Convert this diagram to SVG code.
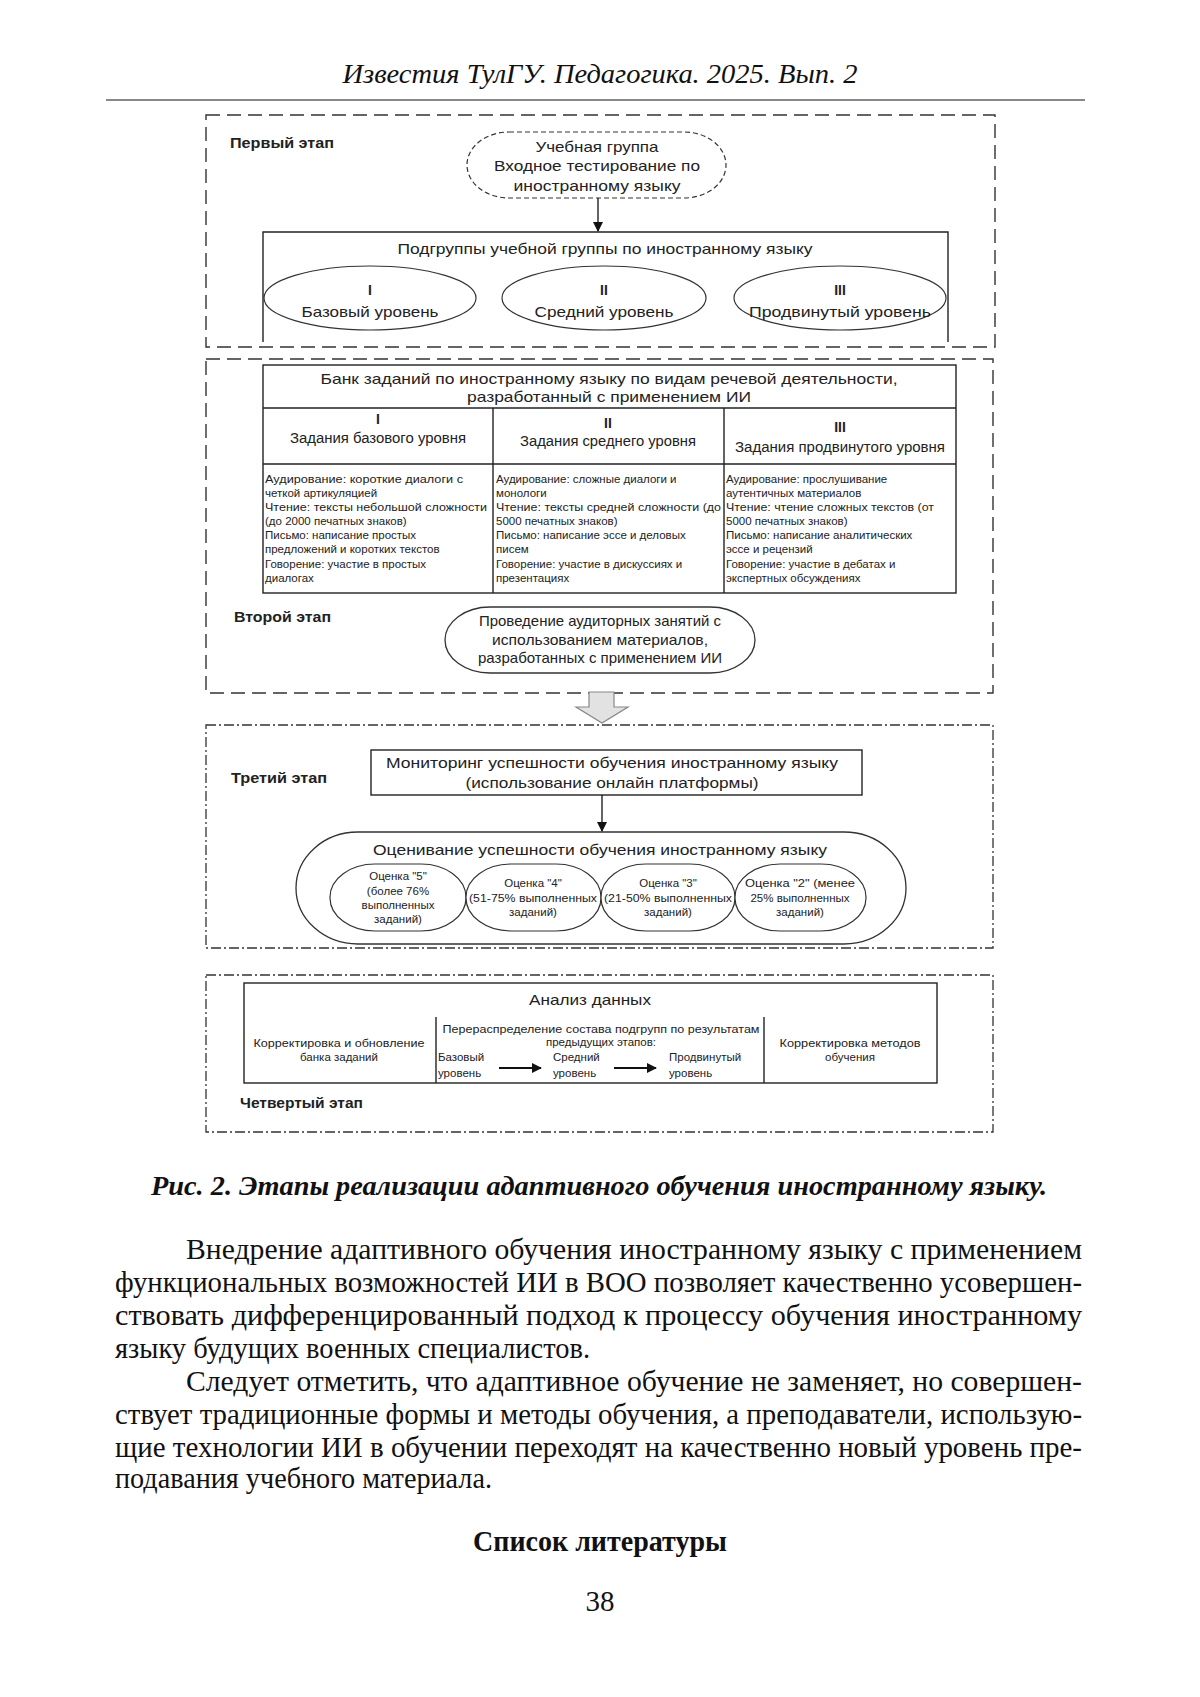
<svg xmlns="http://www.w3.org/2000/svg" width="1200" height="1697" viewBox="0 0 1200 1697">
<defs>
<marker id="ah" markerWidth="10" markerHeight="10" refX="9" refY="5" orient="auto" markerUnits="userSpaceOnUse">
<path d="M0,0 L10,5 L0,10 Z" fill="#111"/>
</marker>
<style>
.dash{fill:none;stroke:#333;stroke-width:1.4;stroke-dasharray:14 7}
.dd{fill:none;stroke:#333;stroke-width:1.3;stroke-dasharray:10 3 2 3}
.bx{fill:#fff;stroke:#222;stroke-width:1.4}
.ln{fill:none;stroke:#222;stroke-width:1.4}
.sf{font-family:"Liberation Sans",Arial,sans-serif;fill:#222}
.c{text-anchor:middle}
.s15{font-size:15px}
.s14{font-size:14px}
.s12{font-size:11.5px}
.b{font-weight:bold}
.tr{font-family:"Liberation Serif","Times New Roman",serif;fill:#111}
</style>
</defs>
<rect width="1200" height="1697" fill="#fff"/>

<g id="header">
<text class="tr" x="600" y="83" text-anchor="middle" font-size="28" font-style="italic" textLength="515" lengthAdjust="spacingAndGlyphs">Известия ТулГУ. Педагогика. 2025. Вып. 2</text>
<line x1="106" y1="100" x2="1085" y2="100" stroke="#888" stroke-width="2"/>
</g>

<g id="stage1">
<rect class="dash" x="206" y="115" width="789" height="232"/>
<text class="sf s14 b" x="230" y="148" textLength="104" lengthAdjust="spacingAndGlyphs">Первый этап</text>
</g>
<g id="node-group">
<rect x="467" y="132" width="259" height="66" rx="42" ry="33" fill="#fff" stroke="#333" stroke-width="1.2" stroke-dasharray="5 3"/>
<text class="sf s15 c" x="597" y="152" textLength="123" lengthAdjust="spacingAndGlyphs">Учебная группа</text>
<text class="sf s15 c" x="597" y="171" textLength="206" lengthAdjust="spacingAndGlyphs">Входное тестирование по</text>
<text class="sf s15 c" x="597" y="191" textLength="167" lengthAdjust="spacingAndGlyphs">иностранному языку</text>
</g>
<g id="node-subgroups">
<path class="ln" d="M263,342 V232 H948 V342"/>
<text class="sf s15 c" x="605" y="254" textLength="415" lengthAdjust="spacingAndGlyphs">Подгруппы учебной группы по иностранному языку</text>
</g>
<g id="node-level1">
<ellipse cx="370" cy="298" rx="106" ry="32" fill="#fff" stroke="#333" stroke-width="1.2"/>
<text class="sf s14 b c" x="370" y="295">I</text>
<text class="sf s15 c" x="370" y="317" textLength="137" lengthAdjust="spacingAndGlyphs">Базовый уровень</text>
</g>
<g id="node-level2">
<ellipse cx="604" cy="298" rx="102" ry="32" fill="#fff" stroke="#333" stroke-width="1.2"/>
<text class="sf s14 b c" x="604" y="295">II</text>
<text class="sf s15 c" x="604" y="317" textLength="139" lengthAdjust="spacingAndGlyphs">Средний уровень</text>
</g>
<g id="node-level3">
<ellipse cx="840" cy="298" rx="106" ry="32" fill="#fff" stroke="#333" stroke-width="1.2"/>
<text class="sf s14 b c" x="840" y="295">III</text>
<text class="sf s15 c" x="840" y="317" textLength="182" lengthAdjust="spacingAndGlyphs">Продвинутый уровень</text>
</g>

<g id="stage2">
<rect class="dash" x="206" y="359" width="787" height="334"/>
<text class="sf s14 b" x="234" y="622" textLength="97" lengthAdjust="spacingAndGlyphs">Второй этап</text>
</g>
<g id="node-bank">
<rect class="bx" x="263" y="365" width="693" height="228"/>
<line class="ln" x1="263" y1="408" x2="956" y2="408"/>
<line class="ln" x1="263" y1="464" x2="956" y2="464"/>
<line class="ln" x1="493" y1="408" x2="493" y2="593"/>
<line class="ln" x1="724" y1="408" x2="724" y2="593"/>
<text class="sf s15 c" x="609" y="384" textLength="577" lengthAdjust="spacingAndGlyphs">Банк заданий по иностранному языку по видам речевой деятельности,</text>
<text class="sf s15 c" x="609" y="402" textLength="284" lengthAdjust="spacingAndGlyphs">разработанный с применением ИИ</text>
<text class="sf s14 b c" x="378" y="424">I</text>
<text class="sf s14 c" x="378" y="443" textLength="176" lengthAdjust="spacingAndGlyphs">Задания базового уровня</text>
<text class="sf s14 b c" x="608" y="428">II</text>
<text class="sf s14 c" x="608" y="446" textLength="176" lengthAdjust="spacingAndGlyphs">Задания среднего уровня</text>
<text class="sf s14 b c" x="840" y="432">III</text>
<text class="sf s14 c" x="840" y="452" textLength="210" lengthAdjust="spacingAndGlyphs">Задания продвинутого уровня</text>
<g class="sf s12">
<text x="265" y="483" textLength="198" lengthAdjust="spacingAndGlyphs">Аудирование: короткие диалоги с</text>
<text x="265" y="497">четкой артикуляцией</text>
<text x="265" y="511" textLength="222" lengthAdjust="spacingAndGlyphs">Чтение: тексты небольшой сложности</text>
<text x="265" y="525">(до 2000 печатных знаков)</text>
<text x="265" y="539">Письмо: написание простых</text>
<text x="265" y="553">предложений и коротких текстов</text>
<text x="265" y="568">Говорение: участие в простых</text>
<text x="265" y="582">диалогах</text>
<text x="496" y="483">Аудирование: сложные диалоги и</text>
<text x="496" y="497">монологи</text>
<text x="496" y="511" textLength="225" lengthAdjust="spacingAndGlyphs">Чтение: тексты средней сложности (до</text>
<text x="496" y="525">5000 печатных знаков)</text>
<text x="496" y="539">Письмо: написание эссе и деловых</text>
<text x="496" y="553">писем</text>
<text x="496" y="568">Говорение: участие в дискуссиях и</text>
<text x="496" y="582">презентациях</text>
<text x="726" y="483">Аудирование: прослушивание</text>
<text x="726" y="497">аутентичных материалов</text>
<text x="726" y="511" textLength="208" lengthAdjust="spacingAndGlyphs">Чтение: чтение сложных текстов (от</text>
<text x="726" y="525">5000 печатных знаков)</text>
<text x="726" y="539">Письмо: написание аналитических</text>
<text x="726" y="553">эссе и рецензий</text>
<text x="726" y="568">Говорение: участие в дебатах и</text>
<text x="726" y="582">экспертных обсуждениях</text>
</g>
</g>
<g id="node-classes">
<rect x="445" y="607" width="310" height="66" rx="45" ry="33" fill="#fff" stroke="#333" stroke-width="1.3"/>
<text class="sf s15 c" x="600" y="626" textLength="242" lengthAdjust="spacingAndGlyphs">Проведение аудиторных занятий с</text>
<text class="sf s15 c" x="600" y="645" textLength="216" lengthAdjust="spacingAndGlyphs">использованием материалов,</text>
<text class="sf s15 c" x="600" y="663" textLength="244" lengthAdjust="spacingAndGlyphs">разработанных с применением ИИ</text>
</g>

<g id="stage3">
<rect class="dd" x="206" y="725" width="787" height="223"/>
<text class="sf s14 b" x="231" y="783" textLength="96" lengthAdjust="spacingAndGlyphs">Третий этап</text>
</g>
<g id="node-monitoring">
<rect class="bx" x="371" y="750" width="491" height="45"/>
<text class="sf s15 c" x="612" y="768" textLength="452" lengthAdjust="spacingAndGlyphs">Мониторинг успешности обучения иностранному языку</text>
<text class="sf s15 c" x="612" y="788" textLength="293" lengthAdjust="spacingAndGlyphs">(использование онлайн платформы)</text>
</g>
<g id="node-assessment">
<rect x="296" y="832" width="610" height="112" rx="62" ry="56" fill="#fff" stroke="#333" stroke-width="1.3"/>
<text class="sf s15 c" x="600" y="855" textLength="454" lengthAdjust="spacingAndGlyphs">Оценивание успешности обучения иностранному языку</text>
</g>
<g id="node-grade5">
<rect x="330" y="864" width="136" height="67" rx="45" ry="33" fill="#fff" stroke="#333" stroke-width="1.2"/>
<text class="sf s12 c" x="398" y="880">Оценка "5"</text>
<text class="sf s12 c" x="398" y="895">(более 76%</text>
<text class="sf s12 c" x="398" y="909">выполненных</text>
<text class="sf s12 c" x="398" y="923">заданий)</text>
</g>
<g id="node-grade4">
<rect x="466" y="864" width="135" height="67" rx="45" ry="33" fill="#fff" stroke="#333" stroke-width="1.2"/>
<text class="sf s12 c" x="533" y="887">Оценка "4"</text>
<text class="sf s12 c" x="533" y="902" textLength="128" lengthAdjust="spacingAndGlyphs">(51-75% выполненных</text>
<text class="sf s12 c" x="533" y="916">заданий)</text>
</g>
<g id="node-grade3">
<rect x="601" y="864" width="134" height="67" rx="45" ry="33" fill="#fff" stroke="#333" stroke-width="1.2"/>
<text class="sf s12 c" x="668" y="887">Оценка "3"</text>
<text class="sf s12 c" x="668" y="902" textLength="128" lengthAdjust="spacingAndGlyphs">(21-50% выполненных</text>
<text class="sf s12 c" x="668" y="916">заданий)</text>
</g>
<g id="node-grade2">
<rect x="735" y="864" width="131" height="67" rx="45" ry="33" fill="#fff" stroke="#333" stroke-width="1.2"/>
<text class="sf s12 c" x="800" y="887" textLength="110" lengthAdjust="spacingAndGlyphs">Оценка "2" (менее</text>
<text class="sf s12 c" x="800" y="902">25% выполненных</text>
<text class="sf s12 c" x="800" y="916">заданий)</text>
</g>

<g id="stage4">
<rect class="dd" x="206" y="975" width="787" height="157"/>
<text class="sf s14 b" x="240" y="1108" textLength="123" lengthAdjust="spacingAndGlyphs">Четвертый этап</text>
</g>
<g id="node-analysis">
<rect class="bx" x="244" y="983" width="693" height="100"/>
<line class="ln" x1="436" y1="1017" x2="436" y2="1083"/>
<line class="ln" x1="764" y1="1017" x2="764" y2="1083"/>
<text class="sf s15 c" x="590" y="1005" textLength="122" lengthAdjust="spacingAndGlyphs">Анализ данных</text>
<text class="sf s12 c" x="339" y="1047" textLength="171" lengthAdjust="spacingAndGlyphs">Корректировка и обновление</text>
<text class="sf s12 c" x="339" y="1061">банка заданий</text>
<text class="sf s12 c" x="601" y="1033" textLength="317" lengthAdjust="spacingAndGlyphs">Перераспределение состава подгрупп по результатам</text>
<text class="sf s12 c" x="601" y="1046">предыдущих этапов:</text>
<text class="sf s12" x="438" y="1061">Базовый</text>
<text class="sf s12" x="438" y="1077">уровень</text>
<text class="sf s12" x="553" y="1061">Средний</text>
<text class="sf s12" x="553" y="1077">уровень</text>
<text class="sf s12" x="669" y="1061">Продвинутый</text>
<text class="sf s12" x="669" y="1077">уровень</text>
<text class="sf s12 c" x="850" y="1047" textLength="141" lengthAdjust="spacingAndGlyphs">Корректировка методов</text>
<text class="sf s12 c" x="850" y="1061">обучения</text>
</g>

<g id="connectors">
<line x1="598" y1="198" x2="598" y2="231" stroke="#111" stroke-width="1.3" marker-end="url(#ah)"/>
<polygon points="589,692 614,692 614,707 628,707 602,723 576,707 589,707" fill="#e2e2e2" stroke="#888" stroke-width="1.2"/>
<line x1="602" y1="795" x2="602" y2="831" stroke="#111" stroke-width="1.3" marker-end="url(#ah)"/>
<line x1="499" y1="1068" x2="541" y2="1068" stroke="#111" stroke-width="1.8" marker-end="url(#ah)"/>
<line x1="614" y1="1068" x2="656" y2="1068" stroke="#111" stroke-width="1.8" marker-end="url(#ah)"/>
</g>

<g id="caption">
<text class="tr" x="599" y="1195" text-anchor="middle" font-size="27" font-weight="bold" font-style="italic" textLength="896" lengthAdjust="spacingAndGlyphs">Рис. 2. Этапы реализации адаптивного обучения иностранному языку.</text>
</g>

<g id="body" class="tr" font-size="29">
<text x="186" y="1259" textLength="896" lengthAdjust="spacingAndGlyphs">Внедрение адаптивного обучения иностранному языку с применением</text>
<text x="115" y="1292" textLength="967" lengthAdjust="spacingAndGlyphs">функциональных возможностей ИИ в ВОО позволяет качественно усовершен-</text>
<text x="115" y="1325" textLength="967" lengthAdjust="spacingAndGlyphs">ствовать дифференцированный подход к процессу обучения иностранному</text>
<text x="115" y="1358" textLength="475" lengthAdjust="spacingAndGlyphs">языку будущих военных специалистов.</text>
<text x="186" y="1391" textLength="896" lengthAdjust="spacingAndGlyphs">Следует отметить, что адаптивное обучение не заменяет, но совершен-</text>
<text x="115" y="1424" textLength="967" lengthAdjust="spacingAndGlyphs">ствует традиционные формы и методы обучения, а преподаватели, использую-</text>
<text x="115" y="1457" textLength="967" lengthAdjust="spacingAndGlyphs">щие технологии ИИ в обучении переходят на качественно новый уровень пре-</text>
<text x="115" y="1488" textLength="377" lengthAdjust="spacingAndGlyphs">подавания учебного материала.</text>
<text x="600" y="1551" text-anchor="middle" font-weight="bold" textLength="254" lengthAdjust="spacingAndGlyphs">Список литературы</text>
<text x="600" y="1611" text-anchor="middle">38</text>
</g>
</svg>
